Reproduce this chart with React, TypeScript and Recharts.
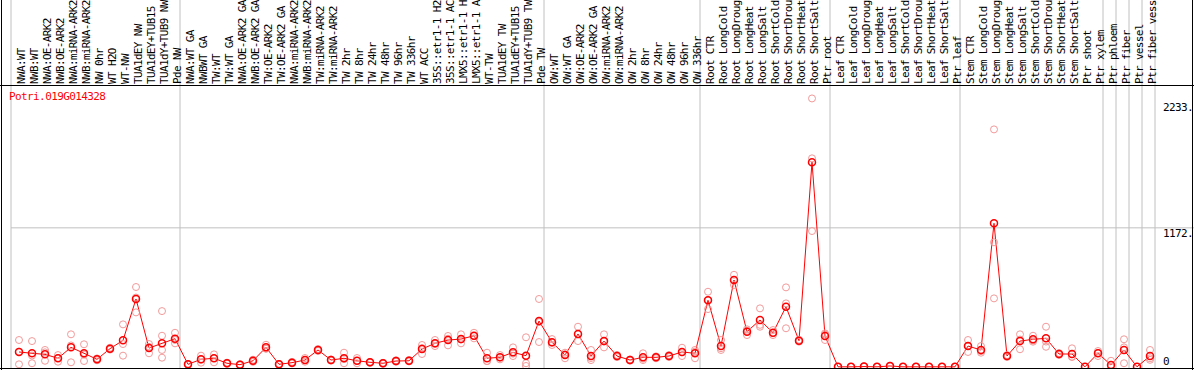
import { ComposedChart, Line, XAxis, YAxis, ReferenceLine } from 'recharts';

const geneId = 'Potri.019G014328';

const samples = [
  'NWA:WT', 'NWB:WT', 'NWA:OE-ARK2', 'NWB:OE-ARK2', 'NWA:miRNA-ARK2', 'NWB:miRNA-ARK2', 'NW 0hr', 'WT H2O', 'WT-NW',
  'TUA1dEY NW', 'TUA1dEY+TUB15 NW', 'TUA1dY+TUB9 NW', 'Pde NW',
  'NWA:WT GA', 'NWBWT GA', 'TW:WT', 'TW:WT GA', 'NWA:OE-ARK2 GA', 'NWB:OE-ARK2 GA', 'TW:OE-ARK2', 'TW:OE-ARK2 GA',
  'NWA:miRNA-ARK2 GA', 'NWB:miRNA-ARK2 GA', 'TW:miRNA-ARK2', 'TW:miRNA-ARK2', 'TW 2hr', 'TW 8hr', 'TW 24hr', 'TW 48hr',
  'TW 96hr', 'TW 336hr', 'WT ACC', '35S::etr1-1 H2O', '35S::etr1-1 ACC', 'LMX5::etr1-1 H2O', 'LMX5::etr1-1 ACC',
  'WT-TW', 'TUA1dEY TW', 'TUA1dEY+TUB15 TW', 'TUA1dY+TUB9 TW', 'Pde TW',
  'OW:WT', 'OW:WT GA', 'OW:OE-ARK2', 'OW:OE-ARK2 GA', 'OW:miRNA-ARK2', 'OW:miRNA-ARK2', 'OW 2hr', 'OW 8hr', 'OW 24hr',
  'OW 48hr', 'OW 96hr', 'OW 336hr',
  'Root CTR', 'Root LongCold', 'Root LongDrought', 'Root LongHeat', 'Root LongSalt', 'Root ShortCold', 'Root ShortDrought',
  'Root ShortHeat', 'Root ShortSalt', 'Ptr root',
  'Leaf CTR', 'Leaf LongCold', 'Leaf LongDrought', 'Leaf LongHeat', 'Leaf LongSalt', 'Leaf ShortCold', 'Leaf ShortDrought',
  'Leaf ShortHeat', 'Leaf ShortSalt', 'Ptr leaf',
  'Stem CTR', 'Stem LongCold', 'Stem LongDrought', 'Stem LongHeat', 'Stem LongSalt', 'Stem ShortCold', 'Stem ShortDrought',
  'Stem ShortHeat', 'Stem ShortSalt', 'Ptr shoot', 'Ptr xylem',
  'Ptr phloem', 'Ptr fiber', 'Ptr vessel', 'Ptr fiber vessel',
];

const meanValues = [
  125, 114, 105, 72, 164, 114, 63, 153, 223, 572,
  158, 198, 237, 21, 63, 72, 30, 18, 51, 164,
  21, 35, 57, 142, 57, 72, 51, 38, 30, 49,
  51, 150, 198, 226, 234, 262, 72, 80, 122, 94,
  386, 207, 99, 277, 91, 217, 91, 57, 80, 80,
  91, 125, 114, 561, 175, 732, 296, 395, 287, 507,
  220, 1726, 260, 0, 0, 2, 0, 7, 0, 0,
  0, 0, 0, 175, 142, 1210, 91, 217, 232, 240,
  108, 108, 0, 114, 15, 142, 0, 91,
];

const rep1 = [
  226, 217, 142, 99, 274, 190, 71, 161, 358, 673,
  192, 470, 287, 25, 94, 105, 35, 22, 60, 186,
  25, 42, 74, 150, 62, 119, 74, 42, 34, 55,
  57, 184, 226, 260, 274, 287, 119, 99, 164, 249,
  572, 234, 119, 338, 142, 274, 100, 62, 114, 88,
  99, 161, 142, 633, 226, 776, 316, 493, 310, 670,
  228, 2263, 282, 0, 0, 4, 0, 9, 0, 0,
  0, 0, 0, 226, 175, 2002, 99, 274, 262, 338,
  116, 156, 0, 133, 51, 232, 0, 142,
];

const rep2 = [
  21, 30, 51, 43, 38, 49, 55, 145, 94, 459,
  114, 77, 198, 17, 35, 38, 25, 14, 42, 153,
  17, 28, 43, 134, 52, 30, 30, 34, 26, 43,
  45, 108, 175, 181, 198, 240, 49, 63, 91, 30,
  209, 184, 72, 217, 57, 164, 82, 52, 57, 72,
  83, 91, 72, 487, 142, 690, 268, 338, 268, 535,
  212, 1758, 226, 0, 0, 0, 0, 5, 0, 0,
  0, 0, 0, 125, 119, 1050, 83, 148, 212, 169,
  100, 85, 0, 91, 1, 30, 0, 72,
];

const rep3 = [
  128, 95, 122, 74, 180, 103, 63, 153, 192, 584,
  168, 262, 226, 21, 60, 73, 30, 18, 51, 153,
  21, 35, 57, 142, 57, 67, 51, 38, 30, 49,
  51, 158, 193, 237, 230, 259, 48, 78, 111, 7,
  377, 203, 106, 276, 74, 213, 91, 57, 69, 80,
  91, 123, 128, 563, 157, 730, 304, 354, 283, 325,
  220, 1145, 272, 0, 0, 2, 0, 7, 0, 0,
  0, 0, 0, 174, 132, 577, 91, 230, 222, 213,
  108, 83, 0, 118, 0, 164, 0, 59,
];

// only a couple of samples have a fourth replicate
const rep4: (number | null)[] = samples.map(() => null);
rep4[11] = 142;
rep4[39] = 90;

// first sample index of each group block (88 = right edge)
const groupBreaks = [0, 13, 41, 53, 63, 73, 84, 85, 86, 87, 88];
const yTicks = [0, 1172, 2233];
const yTickLabels = ['0', '1172.', '2233.'];
const gridValues = [1172];

const FONT = '"DejaVu Sans Mono", "Liberation Mono", monospace';
const OFFSET = 8 / 13;
// the header strip only has room for 14 characters, the rest is cut like in the original
const MAX_CHARS = 14;

const data = samples.map((s, i) => ({
  idx: i,
  label: s,
  mean: meanValues[i],
  r1: rep1[i],
  r2: rep2[i],
  r3: rep3[i],
  r4: rep4[i],
}));

function SampleTick({ x, payload }: any) {
  return (
    <text
      transform={`translate(${x + 6},84) rotate(-90)`}
      fontFamily={FONT}
      fontSize={11}
      letterSpacing={-0.65}
      fill="#000"
    >
      {samples[payload.value].slice(0, MAX_CHARS).trimEnd()}
    </text>
  );
}

function ValueTick({ y, payload }: any) {
  const v = payload.value;
  const label = yTickLabels[yTicks.indexOf(v)];
  return (
    <g>
      {gridValues.includes(v) && <line x1={1155} x2={1194} y1={y} y2={y} stroke="#c0c0c0" />}
      <text x={1163} y={v === 0 ? y - 2 : y + 9} fontFamily={FONT} fontSize={11} letterSpacing={-0.6} fill="#000">
        {label}
      </text>
    </g>
  );
}

const repDot = { r: 3.5, stroke: '#f29a9a', strokeWidth: 1, fill: 'none' };

export default function App() {
  return (
    <div style={{ position: 'absolute', left: 0, top: 0, width: 1194, height: 370, background: '#fff', overflow: 'hidden' }}>
      <ComposedChart width={1194} height={370} data={data} margin={{ top: 0, right: 0, bottom: 2, left: 11 }}>
        <XAxis
          dataKey="idx"
          type="number"
          orientation="top"
          height={86}
          domain={[-OFFSET, 88 - OFFSET]}
          allowDataOverflow
          ticks={samples.map((_, i) => i)}
          interval={0}
          tickLine={false}
          axisLine={false}
          tick={<SampleTick />}
        />
        <YAxis
          orientation="right"
          width={39}
          domain={[-10, 2368]}
          allowDataOverflow
          ticks={yTicks}
          interval={0}
          tickLine={false}
          axisLine={false}
          tick={<ValueTick />}
        />
        {gridValues.map(v => (
          <ReferenceLine key={v} y={v} stroke="#c0c0c0" strokeWidth={1} />
        ))}
        {groupBreaks.map(k => (
          <ReferenceLine
            key={k}
            segment={[{ x: k - OFFSET, y: -10 }, { x: k - OFFSET, y: 3200 }]}
            ifOverflow="visible"
            stroke="#c0c0c0"
            strokeWidth={1}
          />
        ))}
        {['r1', 'r2', 'r3', 'r4'].map(k => (
          <Line
            key={k}
            dataKey={k}
            stroke="none"
            dot={repDot}
            activeDot={false}
            isAnimationActive={false}
            legendType="none"
          />
        ))}
        <Line
          dataKey="mean"
          stroke="#ff0000"
          strokeWidth={1}
          dot={{ r: 3.5, stroke: '#ff0000', strokeWidth: 1.5, fill: 'none' }}
          activeDot={false}
          isAnimationActive={false}
        />
      </ComposedChart>

      {/* frame lines */}
      <div style={{ position: 'absolute', left: 1, top: 0, width: 1, height: 370, background: '#000' }} />
      <div style={{ position: 'absolute', left: 1192, top: 0, width: 1, height: 370, background: '#000' }} />
      <div style={{ position: 'absolute', left: 0, top: 85, width: 1194, height: 1, background: '#000' }} />
      <div style={{ position: 'absolute', left: 0, top: 368, width: 1194, height: 1, background: '#000' }} />
      <div style={{ position: 'absolute', left: 9, top: 91, fontFamily: FONT, fontSize: 11, letterSpacing: -0.6, color: '#ff0000', lineHeight: '12px' }}>
        {geneId}
      </div>
    </div>
  );
}
